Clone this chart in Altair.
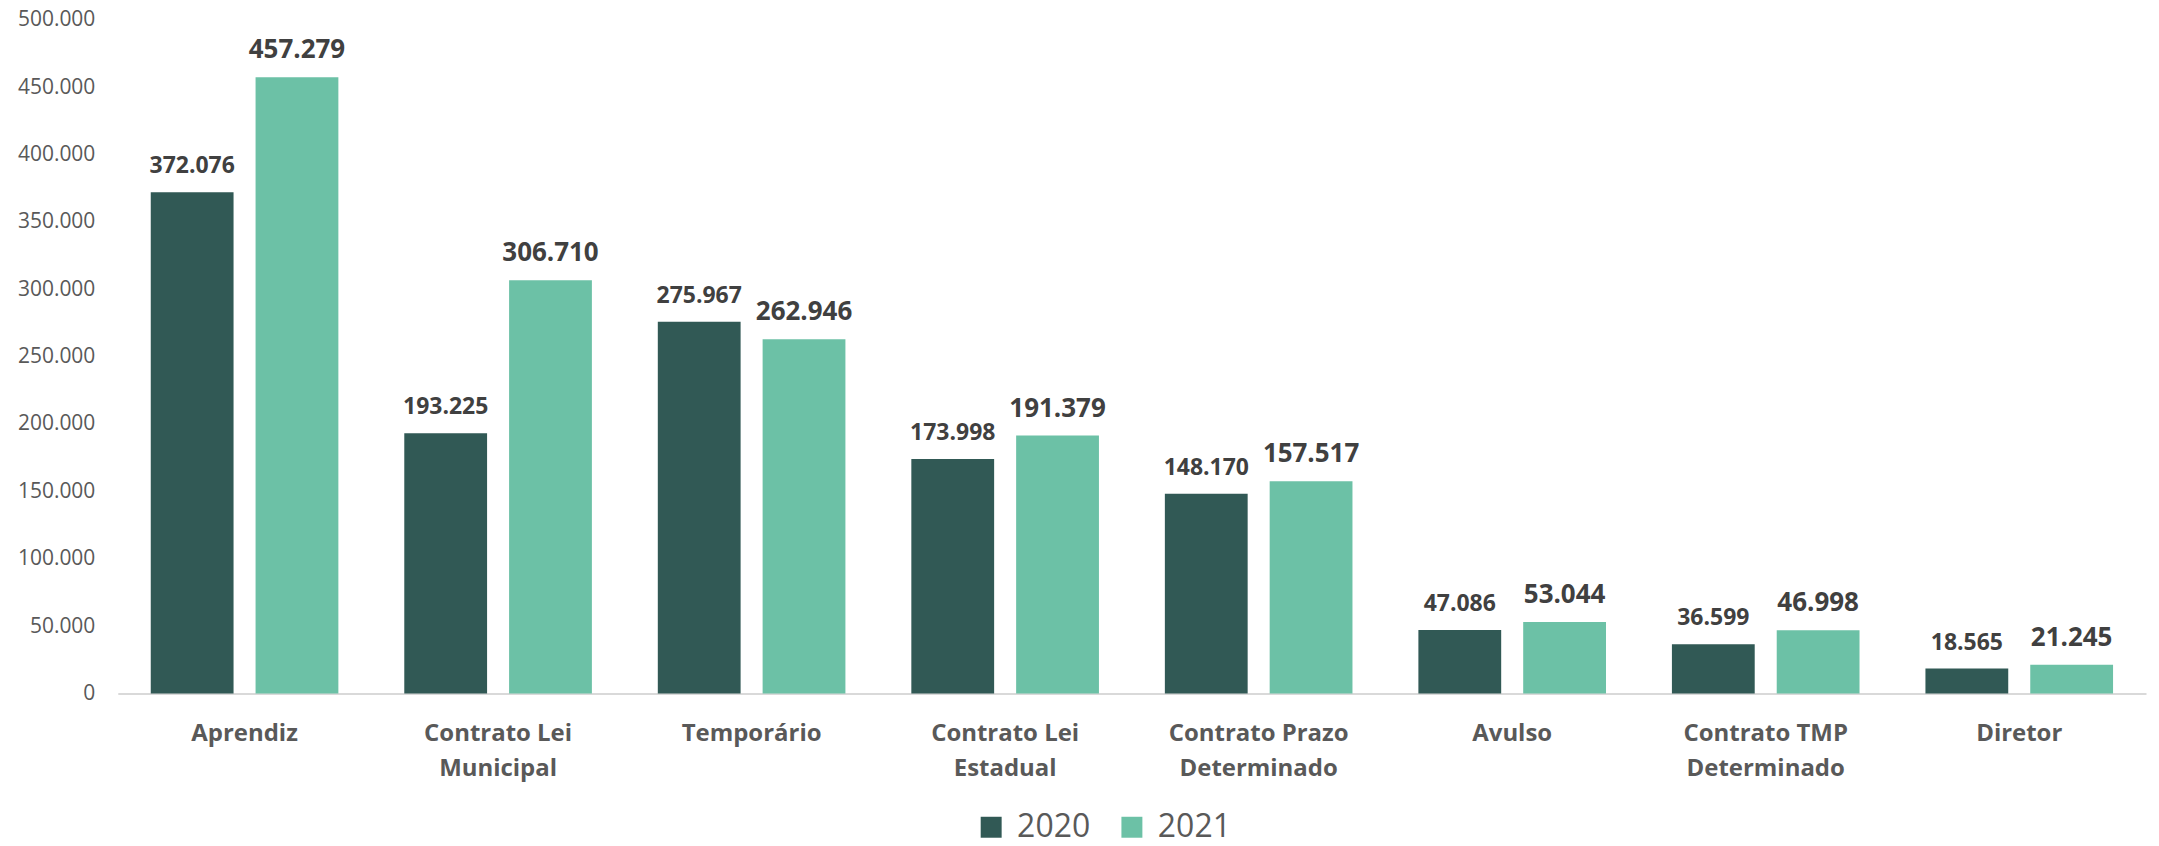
import altair as alt
import pandas as pd

categories = ["Aprendiz", "Contrato Lei\nMunicipal", "Temporário", "Contrato Lei\nEstadual",
              "Contrato Prazo\nDeterminado", "Avulso", "Contrato TMP\nDeterminado", "Diretor"]
years = ["2020", "2021"]
values_2020 = [372076, 193225, 275967, 173998, 148170, 47086, 36599, 18565]
values_2021 = [457279, 306710, 262946, 191379, 157517, 53044, 46998, 21245]
y_ticks = [0, 50000, 100000, 150000, 200000, 250000, 300000, 350000, 400000, 450000, 500000]
colors = ["#315955", "#6cc1a6"]

rows = []
for c, a, b in zip(categories, values_2020, values_2021):
    for yr, v in zip(years, (a, b)):
        rows.append({"cat": c, "year": yr, "value": v,
                     "label": f"{v:,}".replace(",", ".")})
df = pd.DataFrame(rows)

FONT = "Open Sans"

x = alt.X("cat:N", sort=categories, title=None,
          scale=alt.Scale(paddingInner=0.26, paddingOuter=0.13),
          axis=alt.Axis(labelAngle=0, labelFont=FONT, labelFontSize=24, labelFontWeight="bold",
                        labelColor="#595959", labelExpr="split(datum.label, '\\n')",
                        labelLineHeight=35, labelPadding=28, ticks=False, tickSize=0,
                        domainColor="#d9d9d9", domainWidth=2, labelLimit=400))
xo = alt.XOffset("year:N", sort=years, scale=alt.Scale(paddingInner=0.21, paddingOuter=0))
y = alt.Y("value:Q", title=None,
          scale=alt.Scale(domain=[0, 500000], nice=False),
          axis=alt.Axis(values=y_ticks, grid=False, domain=False, ticks=False, tickSize=0,
                        labelFont=FONT, labelFontSize=21, labelColor="#595959", labelPadding=23,
                        labelExpr="replace(format(datum.value, ',d'), ',', '.')"))

bars = alt.Chart(df).mark_bar().encode(
    x=x, xOffset=xo, y=y,
    color=alt.Color("year:N", sort=years, scale=alt.Scale(domain=years, range=colors),
                    legend=alt.Legend(title=None, orient="none", legendX=859, legendY=793,
                                      direction="horizontal", symbolType="square",
                                      symbolSize=441, symbolStrokeWidth=0,
                                      labelFont=FONT, labelFontSize=32, labelColor="#595959",
                                      labelOffset=10, columnPadding=25))
)

text = alt.Chart(df).mark_text(baseline="alphabetic", dy=-19, font=FONT, fontWeight="bold",
                               color="#404040").encode(
    x=x, xOffset=xo, y=y,
    text="label:N",
    size=alt.condition(alt.datum.year == "2020", alt.value(23), alt.value(26))
)

chart = alt.layer(bars, text).properties(
    width=2032, height=675,
    autosize=alt.AutoSizeParams(type="none"),
    padding={"left": 110, "top": 11, "right": 5, "bottom": 144}
).configure_view(stroke=None)

chart.save("out.html", embed_options={"renderer": "svg", "actions": False})
